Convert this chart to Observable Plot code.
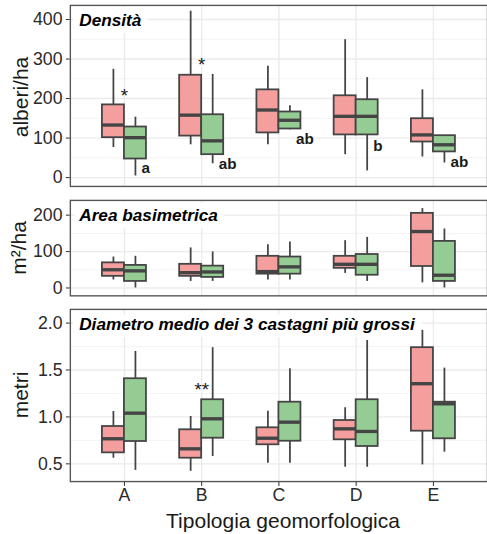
<!DOCTYPE html>
<html><head><meta charset="utf-8">
<script src="https://cdn.jsdelivr.net/npm/d3@7"></script>
<script src="https://cdn.jsdelivr.net/npm/@observablehq/plot@0.6"></script>
<style>
body{margin:0;background:#fff;overflow:hidden;font-family:"Liberation Sans",Arial,sans-serif}
#wrap{position:relative;width:487px;height:534px;overflow:hidden;background:#fff}
.p{position:absolute;left:0}
.ylab{position:absolute;font-size:21px;color:#1a1a1a;transform:translate(-50%,-50%) rotate(-90deg);white-space:nowrap;line-height:1}
.xlab{position:absolute;font-size:21px;color:#1a1a1a;transform:translate(-50%,-50%);white-space:nowrap;line-height:1}
</style></head><body><div id="wrap"></div>
<script>
const categories = ["A","B","C","D","E"];
const seriesNames = ["rosa","verde"];
const colRosa = "#f49e9e";
const colVerde = "#94cc94";
// each entry: [min, Q1, mediana, Q3, max]
const densitaRosa  = [[76,101,133,184,274],[83,105,158,259,421],[83,113,171,222,282],[58,108,155,207,349],[52,90,108,149,222]];
const densitaVerde = [[4,47,101,128,153],[35,58,93,159,261],[121,123,145,166,182],[17,108,155,197,253],[37,65,83,106,106]];
const areaRosa  = [[22,32,50,69,85],[18,32,42,65,110],[22,38,45,87,119],[40,54,65,87,130],[14,59,155,205,218]];
const areaVerde = [[0,18,47,62,87],[18,29,44,60,99],[22,38,58,85,126],[18,35,65,92,139],[0,18,35,128,162]];
const diamRosa  = [[0.56,0.617,0.767,0.898,1.058],[0.42,0.56,0.66,0.863,1.005],[0.506,0.703,0.773,0.884,1.061],[0.464,0.756,0.873,0.962,1.098],[0.489,0.848,1.354,1.738,1.923]];
const diamVerde = [[0.43,0.738,1.04,1.407,1.698],[0.578,0.773,0.98,1.183,1.738],[0.506,0.741,0.944,1.157,1.514],[0.464,0.685,0.845,1.183,1.827],[0.624,0.767,1.14,1.157,1.52]];
// annotations
const densLetters = ["a","ab","ab","b","ab"];
const densLetterY = [23,33,98,79,40];
const densStarCats = ["A","B"];
const densStarY = [207,285];
const densStarLabels = ["*","*"];
const diamStarCats = ["B"];
const diamStarY = [1.29];
const diamStarLabels = ["**"];
// axis ticks
const densMajor = [0,100,200,300,400], densMinor = [50,150,250,350];
const areaMajor = [0,100,200], areaMinor = [50,150];
const diamMajor = [0.5,1.0,1.5,2.0], diamMinor = [0.75,1.25,1.75];

const W = 0.285;
const FONT = '"Liberation Sans", Arial, sans-serif';
const wrap = document.getElementById("wrap");

function panel({rosa, verde, domain, major, minor, fmt, title, xaxis, extra, top, height, mt, mb}) {
  const rows = [];
  categories.forEach((c, i) => {
    rows.push({i: i + 1, side: -1, v: rosa[i], s: seriesNames[0]});
    rows.push({i: i + 1, side: 1, v: verde[i], s: seriesNames[1]});
  });
  const x1 = d => d.side < 0 ? d.i - W : d.i;
  const x2 = d => d.side < 0 ? d.i : d.i + W;
  const xc = d => d.i + d.side * W / 2;
  const ink = "#444";
  const svg = Plot.plot({
    width: 495, height, marginLeft: 71, marginRight: 0, marginTop: mt, marginBottom: mb,
    style: {fontSize: "18px", fontFamily: FONT, color: "#2a2a2a", background: "white", overflow: "visible"},
    x: xaxis
      ? {domain: [0.3, 5.7], ticks: [1,2,3,4,5], tickFormat: d => categories[d - 1], tickSize: 5, tickPadding: 2, label: null}
      : {domain: [0.3, 5.7], axis: null},
    y: {domain, ticks: major, tickFormat: fmt, tickSize: 4, tickPadding: 4, label: null},
    marks: [
      Plot.ruleY(minor, {stroke: "#f2f2f2", strokeWidth: 0.9}),
      Plot.ruleY(major, {stroke: "#ebebeb", strokeWidth: 1.4}),
      Plot.ruleX(categories.map((c, i) => i + 1), {stroke: "#ebebeb", strokeWidth: 1.4}),
      Plot.ruleX(rows, {x: xc, y1: d => d.v[0], y2: d => d.v[4], stroke: ink, strokeWidth: 1.8}),
      Plot.rect(rows.filter(d => d.side < 0), {x1, x2, y1: d => d.v[1], y2: d => d.v[3], fill: colRosa, stroke: ink, strokeWidth: 1.8}),
      Plot.rect(rows.filter(d => d.side > 0), {x1, x2, y1: d => d.v[1], y2: d => d.v[3], fill: colVerde, stroke: ink, strokeWidth: 1.8}),
      Plot.ruleY(rows, {x1, x2, y: d => d.v[2], stroke: ink, strokeWidth: 3.4}),
      ...extra,
      Plot.text([title], {frameAnchor: "top-left", textAnchor: "start", lineAnchor: "top", dx: 9, dy: 9,
        fontSize: 17.5, fontWeight: "bold", fontStyle: "italic", fill: "#000",
        stroke: "white", strokeWidth: 14, paintOrder: "stroke", strokeLinejoin: "round"}),
      Plot.frame({stroke: "#555", strokeWidth: 1.4})
    ]
  });
  const div = document.createElement("div");
  div.className = "p";
  div.style.top = top + "px";
  div.appendChild(svg);
  wrap.appendChild(div);
}

const catIdx = c => categories.indexOf(c) + 1;

panel({
  rosa: densitaRosa, verde: densitaVerde, domain: [-22.4, 435.7], major: densMajor, minor: densMinor,
  fmt: d3.format("d"), title: "Densità", xaxis: false, top: 0, height: 195, mt: 5, mb: 6,
  extra: [
    Plot.text(densLetters, {x: (d, i) => i + 1 + 0.22, y: (d, i) => densLetterY[i], text: d => d,
      textAnchor: "start", fontSize: 15.5, fontWeight: "bold", fill: "#1a1a1a"}),
    Plot.text(densStarLabels, {x: (d, i) => catIdx(densStarCats[i]), y: (d, i) => densStarY[i], text: d => d,
      fontSize: 19, fill: "#1a1a1a"})
  ]
});
panel({
  rosa: areaRosa, verde: areaVerde, domain: [-21.6, 240.5], major: areaMajor, minor: areaMinor,
  fmt: d3.format("d"), title: "Area basimetrica", xaxis: false, top: 195, height: 108, mt: 5, mb: 6,
  extra: []
});
panel({
  rosa: diamRosa, verde: diamVerde, domain: [0.311, 2.146], major: diamMajor, minor: diamMinor,
  fmt: d3.format(".1f"), title: "Diametro medio dei 3 castagni più grossi", xaxis: true, top: 303, height: 231, mt: 6, mb: 50,
  extra: [
    Plot.text(diamStarLabels, {x: (d, i) => catIdx(diamStarCats[i]), y: (d, i) => diamStarY[i], text: d => d,
      fontSize: 19, fill: "#1a1a1a"})
  ]
});

function label(cls, txt, x, y) {
  const d = document.createElement("div");
  d.className = cls; d.textContent = txt;
  d.style.left = x + "px"; d.style.top = y + "px";
  wrap.appendChild(d);
}
label("ylab", "alberi/ha", 20, 97);
label("ylab", "m²/ha", 18, 248);
label("ylab", "metri", 20, 395);
label("xlab", "Tipologia geomorfologica", 283, 520);
</script></body></html>
